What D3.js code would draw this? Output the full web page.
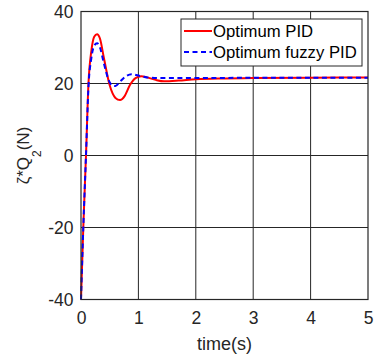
<!DOCTYPE html>
<html>
<head>
<meta charset="utf-8">
<script src="https://cdn.jsdelivr.net/npm/d3@7"></script>
<style>
  html, body { margin: 0; padding: 0; background: #fff; }
  text { font-family: "Liberation Sans", Arial, sans-serif; }
</style>
</head>
<body>
<div id="chart"></div>
<script>
// ─── Data ──────────────────────────────────────────────────────
const pidTime  = [0, 0.04, 0.087, 0.13, 0.18, 0.23, 0.28, 0.33, 0.4, 0.5, 0.6, 0.68, 0.76, 0.85, 0.95, 1.05, 1.15, 1.3, 1.45, 1.7, 2.0, 2.5, 3, 4, 5];
const pidValue = [-40, -20, 0, 20, 29, 33, 33.7, 32.5, 27, 19.5, 16, 15.4, 16.5, 19.5, 21.5, 22, 21.7, 21, 20.6, 20.8, 21.2, 21.4, 21.5, 21.6, 21.7];

const fuzzyTime  = [0, 0.04, 0.087, 0.13, 0.18, 0.23, 0.28, 0.33, 0.4, 0.48, 0.55, 0.6, 0.68, 0.78, 0.88, 1.0, 1.15, 1.4, 2, 3, 4, 5];
const fuzzyValue = [-40, -20, 0, 19, 27, 30.5, 31.2, 30, 25.5, 21, 19.4, 19.3, 20.5, 22, 22.6, 22.2, 21.7, 21.5, 21.5, 21.6, 21.6, 21.6];

const xTicks = [0, 1, 2, 3, 4, 5];
const yTicks = [-40, -20, 0, 20, 40];
const seriesNames = ["Optimum PID", "Optimum fuzzy PID"];

// ─── Dimensions ────────────────────────────────────────────────
const W = 374, H = 360;
const m = { top: 11.5, right: 6, bottom: 60.5, left: 81 };
const w = W - m.left - m.right;
const h = H - m.top - m.bottom;

const svg = d3.select("#chart").append("svg")
  .attr("width", W).attr("height", H);

const g = svg.append("g").attr("transform", `translate(${m.left},${m.top})`);

// ─── Scales ────────────────────────────────────────────────────
const x = d3.scaleLinear().domain([0, 5]).range([0, w]);
const y = d3.scaleLinear().domain([-40, 40]).range([h, 0]);

// ─── Grid ──────────────────────────────────────────────────────
g.append("g").selectAll("line").data(xTicks.slice(1, -1)).join("line")
  .attr("x1", d => x(d)).attr("x2", d => x(d))
  .attr("y1", 0).attr("y2", h)
  .attr("stroke", "#262626").attr("stroke-width", 1);
g.append("g").selectAll("line").data(yTicks.slice(1, -1)).join("line")
  .attr("x1", 0).attr("x2", w)
  .attr("y1", d => y(d)).attr("y2", d => y(d))
  .attr("stroke", "#262626").attr("stroke-width", 1);

// ─── Axes ──────────────────────────────────────────────────────
const xAxis = g.append("g")
  .attr("transform", `translate(0,${h})`)
  .call(d3.axisBottom(x).tickValues(xTicks).tickSize(0).tickPadding(12)
    .tickFormat(d => String(d)));
const yAxis = g.append("g")
  .call(d3.axisLeft(y).tickValues(yTicks).tickSize(0).tickPadding(7.5)
    .tickFormat(d => String(d)));
[xAxis, yAxis].forEach(a => {
  a.select(".domain").remove();
  a.selectAll("text").style("font-size", "17.5px").attr("fill", "#262626")
    .style("font-family", "'Liberation Sans', Arial, sans-serif");
});

// ─── Lines ─────────────────────────────────────────────────────
const line = d3.line().x(d => x(d[0])).y(d => y(d[1])).curve(d3.curveMonotoneX);
const pid = pidTime.map((t, i) => [t, pidValue[i]]);
const fuzzy = fuzzyTime.map((t, i) => [t, fuzzyValue[i]]);

g.append("path").datum(pid).attr("d", line)
  .attr("fill", "none").attr("stroke", "#ff0000").attr("stroke-width", 2);
g.append("path").datum(fuzzy).attr("d", line)
  .attr("fill", "none").attr("stroke", "#0000ff").attr("stroke-width", 2)
  .attr("stroke-dasharray", "5,3.5");

// ─── Frame ─────────────────────────────────────────────────────
g.append("rect").attr("x", 0).attr("y", 0).attr("width", w).attr("height", h)
  .attr("fill", "none").attr("stroke", "#262626").attr("stroke-width", 1.2);

// ─── Axis labels ───────────────────────────────────────────────
svg.append("text")
  .attr("x", m.left + w / 2).attr("y", 349.5)
  .attr("text-anchor", "middle").style("font-size", "18px").attr("fill", "#262626")
  .text("time(s)");

const yl = svg.append("text")
  .attr("transform", `translate(29,${m.top + h / 2}) rotate(-90)`)
  .attr("text-anchor", "middle").style("font-size", "17px").attr("fill", "#262626");
yl.append("tspan").text("ζ*Q");
yl.append("tspan").attr("dy", 12).style("font-size", "12px").text("2");
yl.append("tspan").attr("dy", -12).text("(N)");

// ─── Legend ────────────────────────────────────────────────────
const legend = svg.append("g").attr("transform", "translate(181,19)");
legend.append("rect").attr("width", 181).attr("height", 47)
  .attr("fill", "#fff").attr("stroke", "#262626").attr("stroke-width", 1);
const styles = [
  { color: "#ff0000", dash: null },
  { color: "#0000ff", dash: "5,3.5" }
];
legend.selectAll("g.item").data(seriesNames).join("g")
  .attr("class", "item")
  .attr("transform", (_, i) => `translate(0,${12 + i * 21})`)
  .call(gi => {
    gi.append("line").attr("x1", 3).attr("x2", 31).attr("y1", 0).attr("y2", 0)
      .attr("stroke", (_, i) => styles[i].color).attr("stroke-width", 2)
      .attr("stroke-dasharray", (_, i) => styles[i].dash);
    gi.append("text").attr("x", 32).attr("y", 6)
      .style("font-size", "16.7px").attr("fill", "#000").text(d => d);
  });
</script>
</body>
</html>
